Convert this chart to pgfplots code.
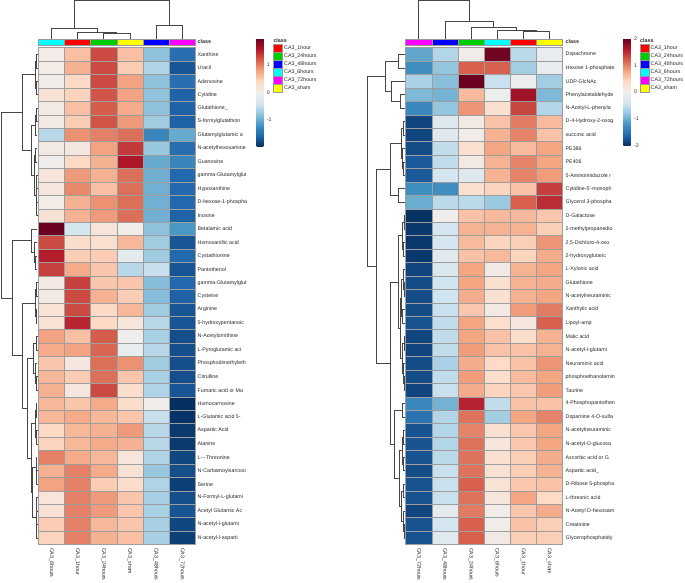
\documentclass[border=0pt]{standalone}
\usepackage{fontspec}
\setmainfont{Liberation Sans}
\usepackage{pgfplots}
\usepackage{pgfplotstable}
\pgfplotsset{compat=1.18}
\newcommand{\lab}{\fontsize{5.3}{6}\selectfont}
\definecolor{gthree}{RGB}{0,205,0}
\definecolor{cred}{RGB}{255,0,0}
\definecolor{cblue}{RGB}{0,0,255}
\definecolor{ccyan}{RGB}{0,255,255}
\definecolor{cmag}{RGB}{255,0,255}
\definecolor{cyel}{RGB}{255,255,0}
\pgfplotsset{colormap={rdbu}{rgb255=(5,48,97) rgb255=(33,102,172) rgb255=(67,147,195) rgb255=(146,197,222) rgb255=(209,229,240) rgb255=(240,238,237) rgb255=(253,219,199) rgb255=(244,165,130) rgb255=(214,96,77) rgb255=(178,24,43) rgb255=(103,0,31)}}
\pgfdeclareplotmark{cell}{\pgfpathrectangle{\pgfpoint{-13.075pt}{-6.715pt}}{\pgfpoint{26.15pt}{13.43pt}}\pgfusepathqfillstroke}
\pgfplotsset{
  heat/.style={only marks, scatter, mark=cell, point meta=explicit,
    scatter/use mapped color={draw=black!38, fill=mapped color}, mark options={line width=0.5pt}},
  dend/.style={draw=black!72, line width=0.65pt, mark=none},
  frame/.style={hide axis, clip=false, x=1pt, y=13.43pt, y dir=reverse,
    xmin=0, xmax=685, ymin=-3.0507, ymax=40.359, enlargelimits=false, colormap name=rdbu},
}
% row merge: child L (x,y), node x, child R (x,y)
\newcommand{\rmg}[5]{\addplot[dend] coordinates {(#1,#2) (#3,#2) (#3,#5) (#4,#5)};}
% column merge: left child (x,y), node y, right child (x,y)
\newcommand{\cmg}[5]{\addplot[dend] coordinates {(#1,#2) (#1,#3) (#4,#3) (#4,#5)};}
\newcommand{\cbox}[5]{\addplot[fill=#5, draw=black!40, line width=0.5pt] coordinates {(#1,#2) (#3,#2) (#3,#4) (#1,#4)} --cycle;}

\pgfplotstableread{
r a b c d e f
1 0.05 0.6 1.3 0.6 -0.8 -1.5
2 0.05 0.7 1.3 0.5 -0.6 -1.7
3 0.02 0.4 1.3 0.8 -0.8 -1.5
4 0.25 0.45 1.25 0.8 -0.8 -1.6
5 0.1 0.6 1.2 0.75 -0.8 -1.6
6 0.1 0.5 1.25 0.85 -0.7 -1.6
7 -0.55 0.9 1.0 1.1 -1.3 -1.0
8 0.1 0.15 0.8 1.4 -0.75 -1.5
9 0.0 0.4 0.7 1.6 -1.0 -1.3
10 0.2 0.85 0.7 1.1 -0.95 -1.55
11 0.15 0.95 0.6 1.1 -0.95 -1.55
12 0.05 0.7 0.9 1.1 -0.95 -1.55
13 0.25 0.7 0.85 1.1 -0.95 -1.6
14 1.95 -0.35 0.2 0.05 -0.8 -1.15
15 1.3 0.35 0.3 0.65 -0.7 -1.7
16 1.55 0.5 0.5 -0.15 -0.7 -1.55
17 1.35 0.75 0.55 -0.55 -0.45 -1.7
18 0.1 1.35 0.55 0.55 -0.85 -1.55
19 0.1 1.3 0.7 0.5 -0.85 -1.6
20 0.25 1.3 0.4 0.65 -0.7 -1.7
21 0.25 1.5 0.4 0.2 -0.55 -1.7
22 0.8 0.6 1.2 0.0 -0.65 -1.75
23 0.75 0.8 1.15 -0.1 -0.55 -1.75
24 0.55 0.15 1.1 0.9 -0.7 -1.75
25 0.65 0.5 1.1 0.55 -0.65 -1.75
26 0.7 0.15 1.3 0.35 -0.6 -1.7
27 0.65 0.55 0.75 0.35 0.0 -2.0
28 0.65 0.75 0.65 0.55 -0.45 -1.95
29 0.4 0.65 0.7 0.85 -0.55 -1.9
30 0.45 0.65 0.75 0.7 -0.55 -1.9
31 1.0 0.75 0.65 0.2 -0.6 -1.8
32 0.7 1.0 0.75 0.25 -0.75 -1.75
33 0.8 1.0 0.5 0.35 -0.6 -1.85
34 0.2 1.0 0.85 0.55 -0.65 -1.75
35 0.25 1.0 0.85 0.55 -0.65 -1.7
36 0.5 1.0 0.65 0.55 -0.65 -1.8
37 0.45 1.0 0.7 0.6 -0.65 -1.85
}\lefttab

\pgfplotstableread{
r a b c d e f
1 -1.05 -0.6 0.05 1.95 -0.55 -0.1
2 -1.25 -0.8 1.2 1.2 -0.7 -0.1
3 -0.65 -0.85 2.0 -0.45 -0.05 -0.7
4 -0.9 -0.95 0.65 -0.05 1.7 -0.9
5 -1.3 -0.8 0.9 0.3 1.35 -0.6
6 -1.85 -0.25 0.1 0.6 1.05 0.65
7 -1.85 -0.2 0.05 0.7 1.0 0.6
8 -1.8 -0.5 0.3 0.8 0.65 0.8
9 -1.7 -0.5 0.1 0.7 1.0 0.8
10 -1.7 -0.35 -0.25 0.7 1.0 0.85
11 -1.25 -1.25 0.3 0.45 0.6 1.4
12 -1.0 -0.55 -0.55 -0.75 1.2 1.5
13 -2.0 0.0 0.6 0.65 0.65 0.55
14 -1.95 -0.35 0.7 0.7 0.7 0.5
15 -1.95 -0.35 0.65 0.45 0.5 0.9
16 -1.95 -0.2 0.6 0.65 0.45 0.75
17 -1.85 -0.3 0.8 0.1 0.7 0.8
18 -1.8 -0.4 0.8 0.3 0.7 0.75
19 -1.8 -0.4 0.75 0.3 0.7 0.8
20 -1.8 -0.45 0.55 0.1 0.85 1.05
21 -1.75 -0.5 0.8 0.35 0.15 1.2
22 -1.85 -0.5 0.8 0.6 0.35 0.7
23 -1.85 -0.5 0.85 0.6 0.6 0.7
24 -1.8 -0.65 0.75 0.4 0.6 0.9
25 -1.8 -0.5 0.85 0.35 0.65 0.8
26 -1.85 -0.45 0.75 0.45 0.55 0.85
27 -1.3 -0.95 1.55 -0.5 0.6 0.6
28 -1.5 -0.6 1.1 -0.7 0.8 1.0
29 -1.75 -0.6 1.0 0.3 0.55 0.8
30 -1.75 -0.6 1.1 0.2 0.55 0.8
31 -1.75 -0.55 1.1 0.3 0.5 0.75
32 -1.8 -0.45 1.1 0.25 0.5 0.7
33 -1.75 -0.45 1.2 0.25 0.55 0.6
34 -1.75 -0.45 1.1 0.2 0.8 0.4
35 -1.85 -0.15 1.05 0.05 0.55 0.75
36 -1.75 -0.35 1.2 0.05 0.6 0.5
37 -1.75 -0.2 1.2 0.1 0.5 0.5
}\righttab

\begin{document}
\begin{tikzpicture}
% ================= LEFT PANEL =================
\begin{axis}[frame, point meta min=-1.97, point meta max=1.97,
  colorbar,
  colorbar style={at={(248.2pt,544.7pt)}, anchor=north west, width=6.6pt, height=108.4pt,
    ytick={-1,0,1}, yticklabels={-1,0,1}, yticklabel style={font=\lab, text=black!80},
    major tick length=0pt, axis line style={draw=none}}]
\path (axis cs:0,-3.0507) rectangle (axis cs:685,40.359);
\addplot[heat] table[x expr=51.4, y=r, meta=a] {\lefttab};
\addplot[heat] table[x expr=77.55, y=r, meta=b] {\lefttab};
\addplot[heat] table[x expr=103.7, y=r, meta=c] {\lefttab};
\addplot[heat] table[x expr=129.85, y=r, meta=d] {\lefttab};
\addplot[heat] table[x expr=156.0, y=r, meta=e] {\lefttab};
\addplot[heat] table[x expr=182.15, y=r, meta=f] {\lefttab};
% class bar
\cbox{38.3}{-0.147}{64.45}{0.30}{ccyan}
\cbox{64.45}{-0.147}{90.6}{0.30}{cred}
\cbox{90.6}{-0.147}{116.75}{0.30}{gthree}
\cbox{116.75}{-0.147}{142.9}{0.30}{cyel}
\cbox{142.9}{-0.147}{169.05}{0.30}{cblue}
\cbox{169.05}{-0.147}{195.2}{0.30}{cmag}
% column dendrogram
\cmg{103.7}{-0.15}{-0.571}{129.85}{-0.15}
\cmg{77.55}{-0.15}{-0.646}{116.8}{-0.571}
\cmg{51.4}{-0.15}{-0.943}{97.2}{-0.646}
\cmg{156.0}{-0.15}{-1.189}{182.15}{-0.15}
\cmg{74.3}{-0.943}{-2.998}{169.1}{-1.189}
% row dendrogram
\rmg{37}{1}{36.5}{37}{2}
\rmg{37}{3}{36.5}{37}{4}
\rmg{36.5}{1.5}{35.5}{36.5}{3.5}
\rmg{37}{5}{36.5}{37}{6}
\rmg{36.5}{5.5}{35}{37}{7}
\rmg{37}{8}{35}{37}{9}
\rmg{37}{10}{36.5}{37}{11}
\rmg{37}{12}{36.5}{37}{13}
\rmg{36.5}{10.5}{36}{36.5}{12.5}
\rmg{35}{8.5}{34}{36}{11.5}
\rmg{35}{6.25}{31}{34}{10}
\rmg{35.5}{2.5}{22}{31}{8.125}
\rmg{37}{16}{35}{37}{17}
\rmg{37}{15}{34}{35}{16.5}
\rmg{37}{14}{31}{34}{15.75}
\rmg{37}{18}{36.5}{37}{19}
\rmg{37}{20}{36}{37}{21}
\rmg{36.5}{18.5}{35}{36}{20.5}
\rmg{37}{22}{36.5}{37}{23}
\rmg{37}{25}{36.5}{37}{26}
\rmg{37}{24}{35.5}{36.5}{25.5}
\rmg{36.5}{22.5}{33}{35.5}{24.75}
\rmg{37}{27}{36}{37}{28}
\rmg{37}{29}{36.5}{37}{30}
\rmg{36}{27.5}{35}{36.5}{29.5}
\rmg{37}{32}{36.5}{37}{33}
\rmg{37}{31}{36}{36.5}{32.5}
\rmg{37}{34}{36.5}{37}{35}
\rmg{37}{36}{36.5}{37}{37}
\rmg{36.5}{34.5}{36}{36.5}{36.5}
\rmg{36}{31.75}{32}{36}{35.5}
\rmg{35}{28.5}{31}{32}{33.625}
\rmg{33}{23.625}{27}{31}{31.0625}
\rmg{35}{19.5}{22}{27}{27.34375}
\rmg{31}{14.875}{12}{22}{23.421875}
\rmg{22}{5.3125}{1}{12}{19.1484}
% legend
\cbox{273.3}{0.248}{282.3}{0.847}{cred}
\cbox{273.3}{0.847}{282.3}{1.447}{gthree}
\cbox{273.3}{1.447}{282.3}{2.046}{cblue}
\cbox{273.3}{2.046}{282.3}{2.646}{ccyan}
\cbox{273.3}{2.646}{282.3}{3.245}{cmag}
\cbox{273.3}{3.245}{282.3}{3.844}{cyel}
\end{axis}
% ================= RIGHT PANEL =================
\begin{axis}[frame, point meta min=-2.01, point meta max=2.01,
  colorbar,
  colorbar style={at={(614.8pt,544.7pt)}, anchor=north west, width=7.3pt, height=107.7pt,
    ytick={-2,-1,0,1,2}, yticklabels={-2,-1,0,1,2}, yticklabel style={font=\lab, text=black!80},
    major tick length=0pt, axis line style={draw=none}}]
\addplot[heat] table[x expr=418.75, y=r, meta=a] {\righttab};
\addplot[heat] table[x expr=444.85, y=r, meta=b] {\righttab};
\addplot[heat] table[x expr=470.95, y=r, meta=c] {\righttab};
\addplot[heat] table[x expr=497.05, y=r, meta=d] {\righttab};
\addplot[heat] table[x expr=523.15, y=r, meta=e] {\righttab};
\addplot[heat] table[x expr=549.25, y=r, meta=f] {\righttab};
\cbox{405.7}{-0.147}{431.8}{0.30}{cmag}
\cbox{431.8}{-0.147}{457.9}{0.30}{cblue}
\cbox{457.9}{-0.147}{484.0}{0.30}{gthree}
\cbox{484.0}{-0.147}{510.1}{0.30}{ccyan}
\cbox{510.1}{-0.147}{536.2}{0.30}{cred}
\cbox{536.2}{-0.147}{562.3}{0.30}{cyel}
\cmg{523.15}{-0.15}{-0.69}{549.25}{-0.15}
\cmg{497.05}{-0.15}{-0.817}{536.2}{-0.69}
\cmg{470.95}{-0.15}{-0.988}{516.6}{-0.817}
\cmg{444.85}{-0.15}{-1.435}{493.8}{-0.988}
\cmg{418.75}{-0.15}{-2.998}{469.3}{-1.435}
\rmg{405}{1}{398.3}{405}{2}
\rmg{405}{4}{400}{405}{5}
\rmg{405}{3}{391.7}{400}{4.5}
\rmg{398.3}{1.5}{385}{391.7}{3.75}
\rmg{405}{6}{403.5}{405}{7}
\rmg{405}{9}{403.5}{405}{10}
\rmg{405}{8}{402.5}{403.5}{9.5}
\rmg{403.5}{6.5}{401}{402.5}{8.75}
\rmg{405}{11}{398}{405}{12}
\rmg{401}{7.625}{390}{398}{11.5}
\rmg{405}{13}{404}{405}{14}
\rmg{405}{15}{403.5}{405}{16}
\rmg{404}{13.5}{402.5}{403.5}{15.5}
\rmg{405}{18}{404}{405}{19}
\rmg{405}{17}{403}{404}{18.5}
\rmg{405}{20}{402.5}{405}{21}
\rmg{403}{17.75}{401.5}{402.5}{20.5}
\rmg{405}{22}{404}{405}{23}
\rmg{405}{25}{404}{405}{26}
\rmg{405}{24}{403}{404}{25.5}
\rmg{404}{22.5}{402}{403}{24.75}
\rmg{401.5}{19.125}{400}{402}{23.625}
\rmg{402.5}{14.5}{398}{400}{21.375}
\rmg{405}{27}{402}{405}{28}
\rmg{405}{29}{403.5}{405}{30}
\rmg{405}{31}{403.5}{405}{32}
\rmg{403.5}{29.5}{402.5}{403.5}{31.5}
\rmg{405}{33}{403}{405}{34}
\rmg{405}{36}{404}{405}{37}
\rmg{405}{35}{403}{404}{36.5}
\rmg{403}{33.5}{401.5}{403}{35.75}
\rmg{402.5}{30.5}{399}{401.5}{34.625}
\rmg{402}{27.5}{394}{399}{32.5625}
\rmg{398}{17.9375}{390}{394}{30.03125}
\rmg{390}{9.5625}{376.5}{390}{23.984}
\rmg{385}{2.625}{367}{376.5}{16.773}
\cbox{640}{0.248}{649}{0.847}{cred}
\cbox{640}{0.847}{649}{1.447}{gthree}
\cbox{640}{1.447}{649}{2.046}{cblue}
\cbox{640}{2.046}{649}{2.646}{ccyan}
\cbox{640}{2.646}{649}{3.245}{cmag}
\cbox{640}{3.245}{649}{3.844}{cyel}
\end{axis}
% ================= TEXT =================
\begin{axis}[frame]
\begin{scope}[every node/.style={font=\lab, text=black!85, anchor=west, inner sep=0pt}]
\node[font=\lab\bfseries] at (axis cs:197.5,0.08) {class};
\node[font=\lab\bfseries] at (axis cs:565.5,0.08) {class};
\node[font=\lab\bfseries] at (axis cs:273.3,-0.05) {class};
\node[font=\lab\bfseries] at (axis cs:640,-0.05) {class};
\node at (axis cs:284,0.548) {CA3\_1hour};
\node at (axis cs:284,1.147) {CA3\_24hours};
\node at (axis cs:284,1.746) {CA3\_48hours};
\node at (axis cs:284,2.346) {CA3\_6hours};
\node at (axis cs:284,2.945) {CA3\_72hours};
\node at (axis cs:284,3.545) {CA3\_sham};
\node at (axis cs:650.5,0.548) {CA3\_1hour};
\node at (axis cs:650.5,1.147) {CA3\_24hours};
\node at (axis cs:650.5,1.746) {CA3\_48hours};
\node at (axis cs:650.5,2.346) {CA3\_6hours};
\node at (axis cs:650.5,2.945) {CA3\_72hours};
\node at (axis cs:650.5,3.545) {CA3\_sham};
% left row labels
\node at (axis cs:197.5,1) {Xanthine};
\node at (axis cs:197.5,2) {Uracil};
\node at (axis cs:197.5,3) {Adenosine};
\node at (axis cs:197.5,4) {Cytidine};
\node at (axis cs:197.5,5) {Glutathione\_};
\node at (axis cs:197.5,6) {S-formylglutathion};
\node at (axis cs:197.5,7) {Glutamylglutamic a};
\node at (axis cs:197.5,8) {N-acetylhexosamine};
\node at (axis cs:197.5,9) {Guanosine};
\node at (axis cs:197.5,10) {gamma-Glutamylglut};
\node at (axis cs:197.5,11) {Hypoxanthine};
\node at (axis cs:197.5,12) {D-hexose-1-phospha};
\node at (axis cs:197.5,13) {Inosine};
\node at (axis cs:197.5,14) {Betalamic acid};
\node at (axis cs:197.5,15) {Homovanillic acid};
\node at (axis cs:197.5,16) {Cystathionine};
\node at (axis cs:197.5,17) {Pantothenol};
\node at (axis cs:197.5,18) {gamma-Glutamylglut};
\node at (axis cs:197.5,19) {Cysteine};
\node at (axis cs:197.5,20) {Arginine};
\node at (axis cs:197.5,21) {5-hydroxypentanoic};
\node at (axis cs:197.5,22) {N-Acetylornithine};
\node at (axis cs:197.5,23) {L-Pyroglutamic aci};
\node at (axis cs:197.5,24) {Phosphodimethyleth};
\node at (axis cs:197.5,25) {Citrulline};
\node at (axis cs:197.5,26) {Fumaric acid or Ma};
\node at (axis cs:197.5,27) {Homocarnosine};
\node at (axis cs:197.5,28) {L-Glutamic acid 5-};
\node at (axis cs:197.5,29) {Aspartic Acid};
\node at (axis cs:197.5,30) {Alanine};
\node at (axis cs:197.5,31) {L-{}-{}-Threonine};
\node at (axis cs:197.5,32) {N-Carbamoylsarcosi};
\node at (axis cs:197.5,33) {Serine};
\node at (axis cs:197.5,34) {N-Formyl-L-glutami};
\node at (axis cs:197.5,35) {Acetyl Glutamic Ac};
\node at (axis cs:197.5,36) {N-acetyl-l-glutami};
\node at (axis cs:197.5,37) {N-acetyl-l-asparti};
% right row labels
\node at (axis cs:565.5,1) {Dopachrome};
\node at (axis cs:565.5,2) {Hexose 1-phosphate};
\node at (axis cs:565.5,3) {UDP-GlcNAc};
\node at (axis cs:565.5,4) {Phenylacetaldehyde};
\node at (axis cs:565.5,5) {N-Acetyl-L-phenyla};
\node at (axis cs:565.5,6) {D-4-Hydroxy-2-oxog};
\node at (axis cs:565.5,7) {succinic acid};
\node at (axis cs:565.5,8) {PE386};
\node at (axis cs:565.5,9) {PE406};
\node at (axis cs:565.5,10) {5-Aminoimidazole r};
\node at (axis cs:565.5,11) {Cytidine-5\textquotesingle-monoph};
\node at (axis cs:565.5,12) {Glycerol 3-phospha};
\node at (axis cs:565.5,13) {D-Galactose};
\node at (axis cs:565.5,14) {2-methylpropanedio};
\node at (axis cs:565.5,15) {2,5-Dichloro-4-oxo};
\node at (axis cs:565.5,16) {2-hydroxyglutaric};
\node at (axis cs:565.5,17) {L-Xylonic acid};
\node at (axis cs:565.5,18) {Glutathione};
\node at (axis cs:565.5,19) {N-acetylneuraminic};
\node at (axis cs:565.5,20) {Xanthylic acid};
\node at (axis cs:565.5,21) {Lipoyl-amp};
\node at (axis cs:565.5,22) {Malic acid};
\node at (axis cs:565.5,23) {N-acetyl-l-glutami};
\node at (axis cs:565.5,24) {Neuraminic acid};
\node at (axis cs:565.5,25) {phosphoethanolamin};
\node at (axis cs:565.5,26) {Taurine};
\node at (axis cs:565.5,27) {4-Phosphopantothen};
\node at (axis cs:565.5,28) {Dopamine 4-O-sulfa};
\node at (axis cs:565.5,29) {N-acetylneuraminic};
\node at (axis cs:565.5,30) {N-acetyl-O-glucosa};
\node at (axis cs:565.5,31) {Ascorbic acid or G};
\node at (axis cs:565.5,32) {Aspartic acid\_};
\node at (axis cs:565.5,33) {D-Ribose 5-phospha};
\node at (axis cs:565.5,34) {L-threonic acid};
\node at (axis cs:565.5,35) {N-Acetyl D-hexosam};
\node at (axis cs:565.5,36) {Creatinine};
\node at (axis cs:565.5,37) {Glycerophosphatidy};
% column labels
\node[rotate=-90] at (axis cs:51.4,37.75) {CA3\_6hours};
\node[rotate=-90] at (axis cs:77.55,37.75) {CA3\_1hour};
\node[rotate=-90] at (axis cs:103.7,37.75) {CA3\_24hours};
\node[rotate=-90] at (axis cs:129.85,37.75) {CA3\_sham};
\node[rotate=-90] at (axis cs:156.0,37.75) {CA3\_48hours};
\node[rotate=-90] at (axis cs:182.15,37.75) {CA3\_72hours};
\node[rotate=-90] at (axis cs:418.75,37.75) {CA3\_72hours};
\node[rotate=-90] at (axis cs:444.85,37.75) {CA3\_48hours};
\node[rotate=-90] at (axis cs:470.95,37.75) {CA3\_24hours};
\node[rotate=-90] at (axis cs:497.05,37.75) {CA3\_6hours};
\node[rotate=-90] at (axis cs:523.15,37.75) {CA3\_1hour};
\node[rotate=-90] at (axis cs:549.25,37.75) {CA3\_sham};
\end{scope}
\end{axis}
\end{tikzpicture}
\end{document}
